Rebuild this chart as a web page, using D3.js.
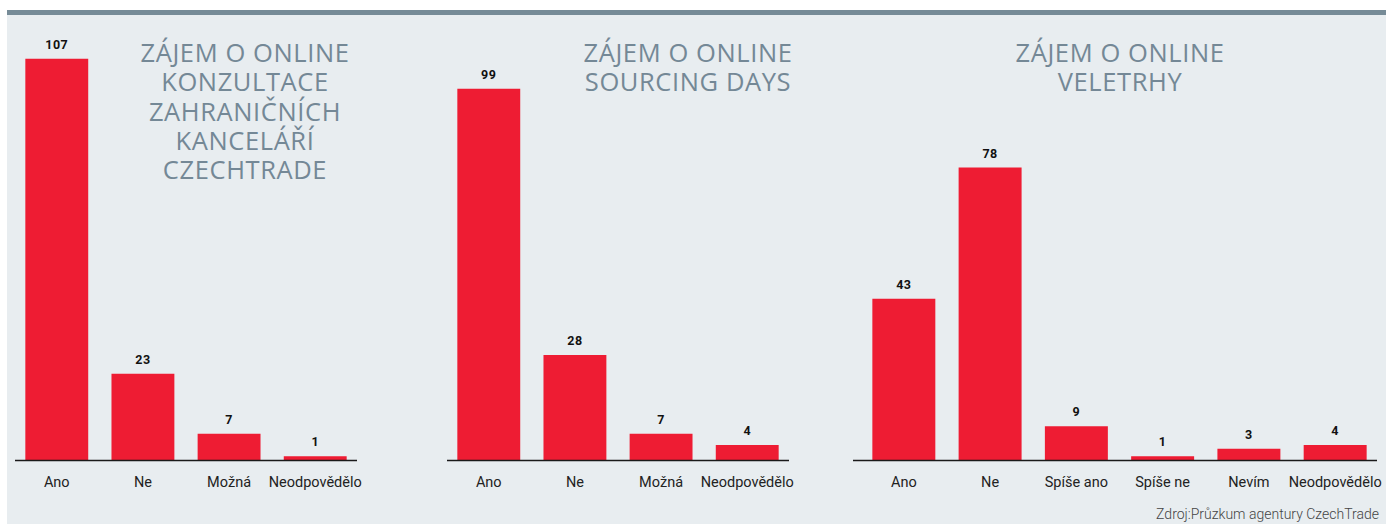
<!DOCTYPE html>
<html>
<head>
<meta charset="utf-8">
<script src="https://cdn.jsdelivr.net/npm/d3@7"></script>
<style>
  body { margin: 0; background: #fff; }
  svg { display: block; }
  .cat text { font-family: Roboto, sans-serif; font-size: 14.5px; fill: #222; }
  .val { font-family: Roboto, sans-serif; font-size: 12.5px; font-weight: bold; fill: #111; letter-spacing: 0.5px; }
  .title { font-family: "Open Sans", sans-serif; font-size: 25.5px; fill: #748896; letter-spacing: 0.6px; }
  .src { font-family: Roboto, sans-serif; font-size: 14px; font-weight: 300; fill: #444; }
</style>
</head>
<body>
<svg width="1386" height="524"></svg>
<script>
/* chart values */
var cats1 = ["Ano", "Ne", "Možná", "Neodpovědělo"],
    vals1 = [107, 23, 7, 1];
var cats2 = ["Ano", "Ne", "Možná", "Neodpovědělo"],
    vals2 = [99, 28, 7, 4];
var cats3 = ["Ano", "Ne", "Spíše ano", "Spíše ne", "Nevím", "Neodpovědělo"],
    vals3 = [43, 78, 9, 1, 3, 4];
var title1 = ["ZÁJEM O ONLINE", "KONZULTACE", "ZAHRANIČNÍCH", "KANCELÁŘÍ", "CZECHTRADE"],
    title2 = ["ZÁJEM O ONLINE", "SOURCING DAYS"],
    title3 = ["ZÁJEM O ONLINE", "VELETRHY"];
var source = "Zdroj:Průzkum agentury CzechTrade";

var svg = d3.select("svg");

/* background panel + grey strip on top */
svg.append("rect").attr("x", 7).attr("y", 10).attr("width", 1379).attr("height", 514).attr("fill", "#e8edf0");
svg.append("rect").attr("x", 7).attr("y", 10).attr("width", 1379).attr("height", 5).attr("fill", "#768b97");

var baseY = 460;
/* one shared value scale, 3.75 px per answer */
var y = d3.scaleLinear().domain([0, 120]).range([baseY, 10]);

var panels = [
  {cats: cats1, vals: vals1, title: title1, range: [15, 357], axis: [15, 357], tx: 245, ty: 62},
  {cats: cats2, vals: vals2, title: title2, range: [447, 789], axis: [447, 789], tx: 688, ty: 62},
  {cats: cats3, vals: vals3, title: title3, range: [862, 1377], axis: [853, 1377], tx: 1120, ty: 62}
];

panels.forEach(function(p) {
  var x = d3.scaleBand().domain(p.cats).range(p.range).paddingInner(0.27).paddingOuter(0.12);
  var g = svg.append("g");
  var data = p.cats.map(function(c, i) { return {cat: c, v: p.vals[i]}; });

  g.selectAll(".bar")
    .data(data)
    .enter().append("rect")
      .attr("class", "bar")
      .attr("fill", "#ee1c33")
      .attr("x", function(d) { return x(d.cat); })
      .attr("y", function(d) { return y(d.v); })
      .attr("width", x.bandwidth())
      .attr("height", function(d) { return baseY - y(d.v); });

  g.selectAll(".val")
    .data(data)
    .enter().append("text")
      .attr("class", "val")
      .attr("text-anchor", "middle")
      .attr("x", function(d) { return x(d.cat) + x.bandwidth() / 2; })
      .attr("y", function(d) { return y(d.v) - 10; })
      .text(function(d) { return d.v; });

  // category labels via the axis, baseline drawn separately
  var ax = g.append("g")
      .attr("class", "cat")
      .attr("transform", "translate(0," + baseY + ")")
      .call(d3.axisBottom(x).tickSize(0).tickPadding(17));
  ax.select(".domain").remove();

  g.append("line")
    .attr("x1", p.axis[0]).attr("x2", p.axis[1])
    .attr("y1", baseY + 0.5).attr("y2", baseY + 0.5)
    .attr("stroke", "#1a1a1a").attr("stroke-width", 1.5);

  // title lines, one text each
  g.selectAll(".title")
    .data(p.title)
    .enter().append("text")
      .attr("class", "title")
      .attr("text-anchor", "middle")
      .attr("x", p.tx)
      .attr("y", function(d, i) { return p.ty + i * 29.3; })
      .text(function(d) { return d; });
});

svg.append("text")
  .attr("class", "src")
  .attr("text-anchor", "end")
  .attr("x", 1379)
  .attr("y", 519)
  .text(source);
</script>
</body>
</html>
